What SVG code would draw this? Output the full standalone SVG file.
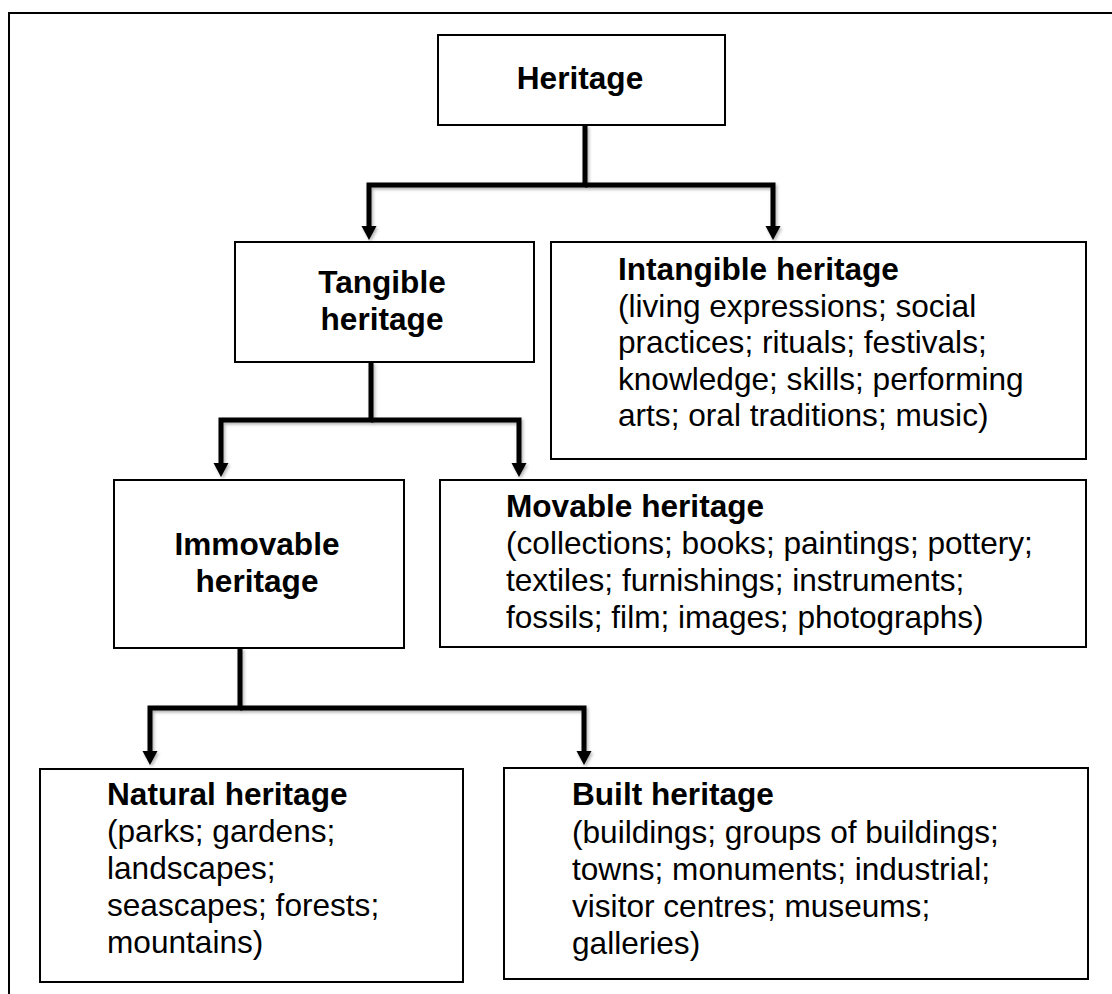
<svg xmlns="http://www.w3.org/2000/svg" width="1112" height="994" viewBox="0 0 1112 994">
<style>
.box{fill:#fff;stroke:#000;stroke-width:2}
.t{font-family:"Liberation Sans",Arial,Helvetica,sans-serif;font-size:31.6px;fill:#000}
.b{font-weight:bold}
.c{text-anchor:middle}
.con{fill:none;stroke:#000;stroke-width:5;stroke-linejoin:miter;marker-end:url(#ah)}
</style>
<defs>
<marker id="ah" markerUnits="userSpaceOnUse" markerWidth="16" markerHeight="16" viewBox="0 -8 16 16" refX="0" refY="0" orient="auto">
<path d="M0,-7.5 L14,0 L0,7.5 z" fill="#000"/>
</marker>
<filter id="sh" x="-10%" y="-10%" width="130%" height="130%">
<feDropShadow dx="1.5" dy="2" stdDeviation="1.5" flood-color="#000" flood-opacity="0.3"/>
</filter>
</defs>
<rect width="1112" height="994" fill="#fff"/>
<path d="M9,994 V13 H1112" fill="none" stroke="#000" stroke-width="2"/>
<g id="connectors" filter="url(#sh)">
<path class="con" d="M585,125 V185 H369 V226"/>
<path class="con" d="M585,185 H773 V226"/>
<path class="con" d="M371,362 V420 H221 V463"/>
<path class="con" d="M371,420 H519 V463"/>
<path class="con" d="M240,648 V708 H150 V751"/>
<path class="con" d="M240,708 H584 V751"/>
</g>
<g id="heritage">
<rect class="box" x="438" y="35" width="287" height="90"/>
<text class="t b c" x="580" y="89">Heritage</text>
</g>
<g id="tangible">
<rect class="box" x="235" y="242" width="299" height="120"/>
<text class="t b c" x="382" y="293">Tangible</text>
<text class="t b c" x="382" y="330">heritage</text>
</g>
<g id="intangible">
<rect class="box" x="551" y="242" width="535" height="217"/>
<text class="t b" x="618" y="280">Intangible heritage</text>
<text class="t" x="618" y="317">(living expressions; social</text>
<text class="t" x="618" y="353">practices; rituals; festivals;</text>
<text class="t" x="618" y="390">knowledge; skills; performing</text>
<text class="t" x="618" y="426">arts; oral traditions; music)</text>
</g>
<g id="immovable">
<rect class="box" x="114" y="480" width="290" height="168"/>
<text class="t b c" x="257" y="555">Immovable</text>
<text class="t b c" x="257" y="592">heritage</text>
</g>
<g id="movable">
<rect class="box" x="440" y="480" width="646" height="167"/>
<text class="t b" x="506" y="517">Movable heritage</text>
<text class="t" x="506" y="554">(collections; books; paintings; pottery;</text>
<text class="t" x="506" y="591">textiles; furnishings; instruments;</text>
<text class="t" x="506" y="628">fossils; film; images; photographs)</text>
</g>
<g id="natural">
<rect class="box" x="40" y="769" width="423" height="213"/>
<text class="t b" x="107" y="805">Natural heritage</text>
<text class="t" x="107" y="842">(parks; gardens;</text>
<text class="t" x="107" y="879">landscapes;</text>
<text class="t" x="107" y="916">seascapes; forests;</text>
<text class="t" x="107" y="953">mountains)</text>
</g>
<g id="built">
<rect class="box" x="504" y="768" width="584" height="211"/>
<text class="t b" x="572" y="805">Built heritage</text>
<text class="t" x="572" y="843">(buildings; groups of buildings;</text>
<text class="t" x="572" y="880">towns; monuments; industrial;</text>
<text class="t" x="572" y="917">visitor centres; museums;</text>
<text class="t" x="572" y="954">galleries)</text>
</g>
</svg>
